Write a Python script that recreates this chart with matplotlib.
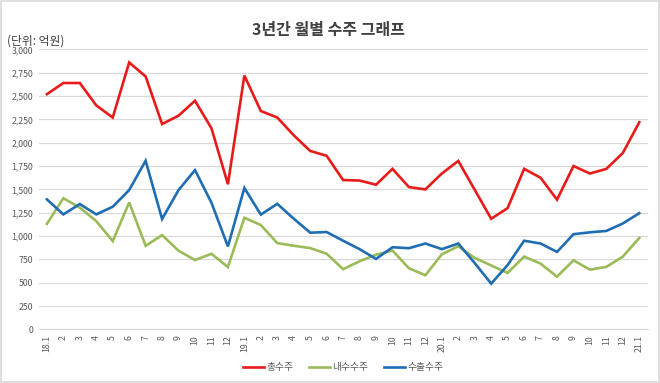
import matplotlib
matplotlib.use("Agg")
import matplotlib.pyplot as plt
from matplotlib.patches import Rectangle

plt.rcParams['font.family'] = ['Noto Sans CJK KR', 'DejaVu Sans']

# 월 라벨 (18.1 ~ 21.1)
months = ["18.1"] + [str(m) for m in range(2, 13)] \
    + ["19.1"] + [str(m) for m in range(2, 13)] \
    + ["20.1"] + [str(m) for m in range(2, 13)] + ["21.1"]

# 총수주
total = [2520, 2640, 2640, 2400, 2270, 2860, 2710, 2200, 2290, 2450, 2155, 1555,
         2720, 2340, 2270, 2080, 1912, 1860, 1600, 1595, 1550, 1720, 1525, 1500,
         1670, 1805, 1495, 1185, 1300, 1720, 1625, 1390, 1750, 1670, 1720, 1890,
         2220]
# 내수수주
domestic = [1130, 1405, 1305, 1160, 946, 1360, 896, 1010, 843, 743, 810, 668,
            1196, 1118, 925, 896, 871, 811, 645, 730, 800, 845, 655, 580,
            805, 890, 765, 685, 605, 780, 705, 565, 740, 640, 670, 780,
            980]
# 수출수주
export = [1393, 1232, 1343, 1232, 1314, 1493, 1807, 1182, 1493, 1707, 1357, 889,
          1515, 1230, 1345, 1186, 1036, 1043, 950, 860, 755, 880, 870, 920,
          860, 920, 710, 490, 690, 950, 920, 830, 1020, 1040, 1055, 1135,
          1245]

labels = ["총수주", "내수수주", "수출수주"]
colors = ["#E81B1B", "#9BBB59", "#1F6DB3"]

fig = plt.figure(figsize=(6.6, 3.83), dpi=100)
ax = fig.add_axes([0.0586, 0.140, 0.9225, 0.731])

x = list(range(len(months)))
for series, lab, col in zip([total, domestic, export], labels, colors):
    ax.plot(x, series, color=col, linewidth=1.9, label=lab, solid_joinstyle="miter")

ax.set_xlim(-0.5, len(months) - 0.5)
ax.set_ylim(0, 3000)
ax.set_yticks(range(0, 3001, 250))
ax.set_yticklabels([f"{v:,}" for v in range(0, 3001, 250)])
ax.set_xticks(x)
ax.set_xticklabels(months, rotation=90)
ax.grid(axis="y", color="#D9D9D9", linewidth=0.9)
ax.set_axisbelow(True)
for s in ["top", "right", "left"]:
    ax.spines[s].set_visible(False)
ax.spines["bottom"].set_color("#D9D9D9")
ax.tick_params(axis="both", length=0, labelsize=6.3, colors="#595959", pad=4)

fig.text(0.497, 0.922, "3년간 월별 수주 그래프", ha="center", va="center",
         fontsize=11.5, fontweight="bold", color="#404040")
fig.text(0.010, 0.894, "(단위: 억원)", ha="left", va="center",
         fontsize=8.5, color="#404040")

ax.legend(loc="center", bbox_to_anchor=(0.5, -0.135), ncol=3, frameon=False,
          fontsize=7, handlelength=2.2, handletextpad=0.2, columnspacing=1.6,
          labelcolor="#595959")

fig.patches.append(Rectangle((0.001, 0.002), 0.997, 0.995, transform=fig.transFigure,
                             fill=False, edgecolor="#D9D9D9", linewidth=1.2))

fig.savefig("out.png", dpi=100)
